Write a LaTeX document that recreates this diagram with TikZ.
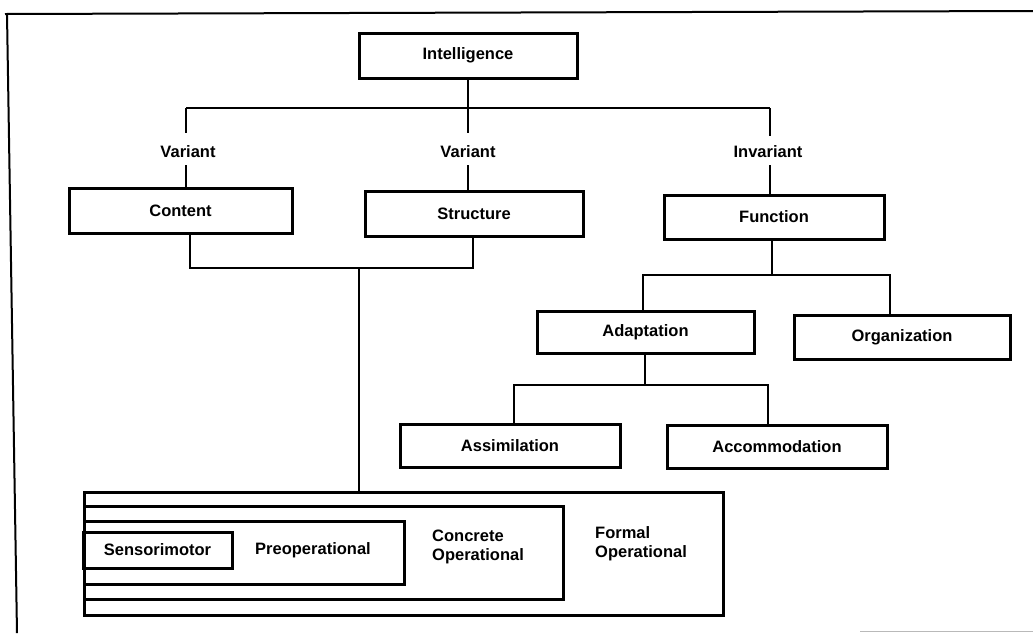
\documentclass[tikz,border=0pt]{standalone}
\usepackage{fontspec}
\setmainfont{Liberation Sans}
\begin{document}
\begin{tikzpicture}[x=1pt,y=-1pt,
  txt/.style={font=\fontsize{16.5}{19}\selectfont\bfseries},
  box/.style={draw, line width=3pt, inner sep=0pt, txt},
  stagebox/.style={draw, line width=3pt, inner sep=0pt, anchor=north west},
  lbl/.style={inner sep=0pt, txt},
  conn/.style={line width=2.7pt},
  frame/.style={line width=2pt}]
\useasboundingbox (0,0) rectangle (1033,633);
% frame
\draw[frame] (5,14) -- (1033,11);
\draw[frame] (7,14) -- (17,633);
\draw[gray!55, line width=1pt] (860,631) -- (1033,631);
% top level
\node[box, minimum width=218pt, minimum height=45pt] (intel) at (468,55.5) {Intelligence};
\node[lbl] (v1) at (188,152) {Variant};
\node[lbl] (v2) at (468,152) {Variant};
\node[lbl] (inv) at (768,152) {Invariant};
\node[box, minimum width=223pt, minimum height=45pt] (content) at (180.5,210.5) {Content};
\node[box, minimum width=218pt, minimum height=45pt] (structure) at (474,213.5) {Structure};
\node[box, minimum width=220pt, minimum height=44pt] (function) at (774,217) {Function};
\node[box, minimum width=217pt, minimum height=42pt] (adapt) at (645.5,332) {Adaptation};
\node[box, minimum width=216pt, minimum height=44pt] (organ) at (902,337) {Organization};
\node[box, minimum width=220pt, minimum height=43pt] (assim) at (510,445.5) {Assimilation};
\node[box, minimum width=220pt, minimum height=43pt] (accom) at (777,446.5) {Accommodation};
% stages
\node[stagebox, minimum width=639pt, minimum height=123pt] (formal) at (83,491) {};
\node[stagebox, minimum width=479pt, minimum height=93pt] (concrete) at (83,505) {};
\node[stagebox, minimum width=320pt, minimum height=63pt] (preop) at (83,520) {};
\node[box, minimum width=149pt, minimum height=36pt] (sensori) at (157.5,550) {Sensorimotor};
\node[lbl] (preoptxt) at (313,550) {Preoperational};
\node[lbl, align=left, anchor=west] (conctxt) at (432,547) {Concrete\\Operational};
\node[lbl, align=left, anchor=west] (formtxt) at (595,544) {Formal\\Operational};
% connector coordinates
\coordinate (barL) at (186,108);
\coordinate (barM) at (468,108);
\coordinate (barR) at (770,108);
\coordinate (jL) at (190,268);
\coordinate (jM) at (359,268);
\coordinate (jR) at (473,268);
\coordinate (fL) at (643,275);
\coordinate (fM) at (772,275);
\coordinate (fR) at (890,275);
\coordinate (aL) at (514,385);
\coordinate (aM) at (645,385);
\coordinate (aR) at (768,385);
% connectors
\draw[conn] (intel.south) -- (barM);
\draw[conn] (barL) -- (barR);
\draw[conn] (barL) -- ++(0,25);
\draw[conn] (barM) -- ++(0,25);
\draw[conn] (barR) -- ++(0,28);
\draw[conn] (barL |- 0,165) -- (barL |- content.north);
\draw[conn] (barM |- 0,165) -- (barM |- structure.north);
\draw[conn] (barR |- 0,165) -- (barR |- function.north);
\draw[conn] (jL |- content.south) -- (jL) -- (jR) -- (jR |- structure.south);
\draw[conn] (jM) -- (jM |- formal.north);
\draw[conn] (fM |- function.south) -- (fM);
\draw[conn] (fL |- adapt.north) -- (fL) -- (fR) -- (fR |- organ.north);
\draw[conn] (aM |- adapt.south) -- (aM);
\draw[conn] (aL |- assim.north) -- (aL) -- (aR) -- (aR |- accom.north);
\end{tikzpicture}
\end{document}
